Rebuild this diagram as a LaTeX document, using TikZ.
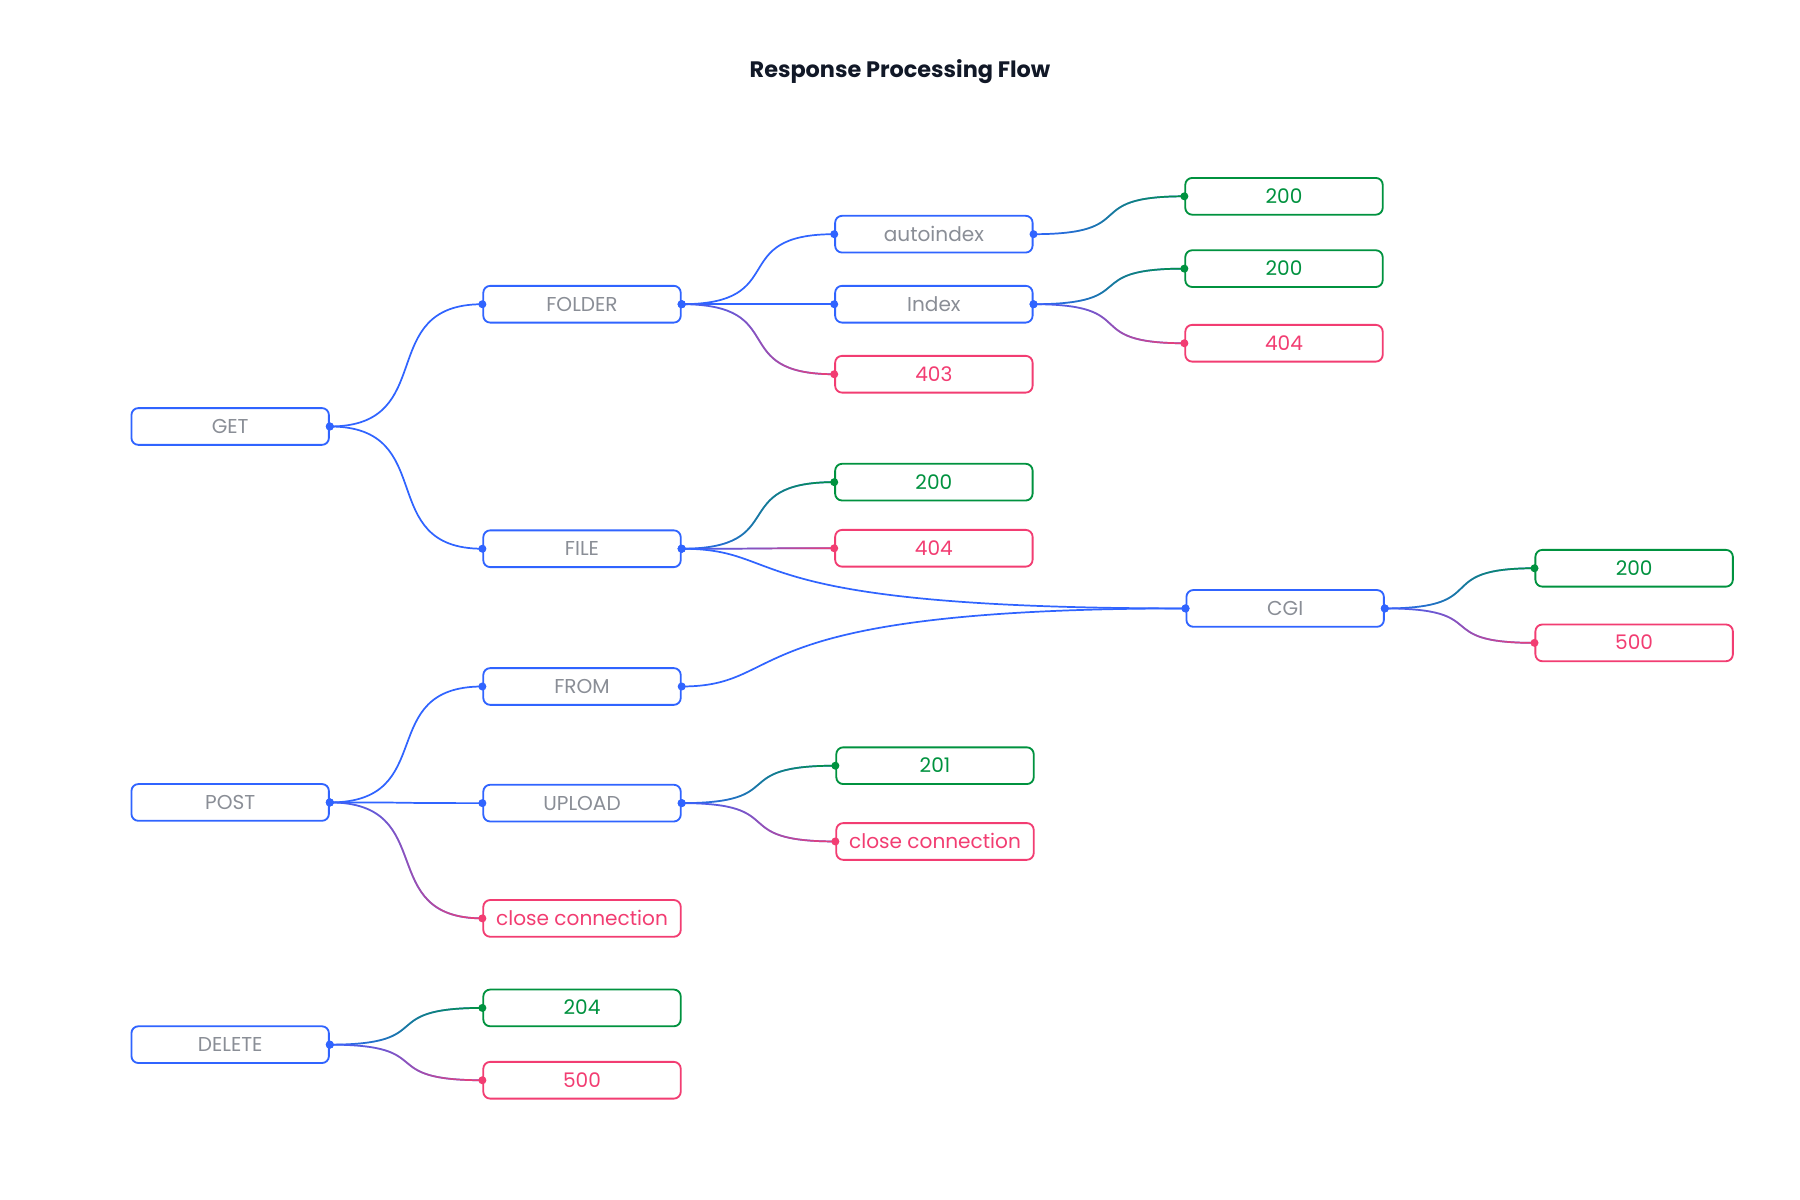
\documentclass[tikz,border=0pt]{standalone}
\usepackage{fontspec}
\setmainfont{Poppins}
\usetikzlibrary{calc,fadings}
\definecolor{cblue}{HTML}{3064FF}
\definecolor{cgrey}{HTML}{8A8E96}
\definecolor{cgreen}{HTML}{00923F}
\definecolor{cpink}{HTML}{F23D72}
\definecolor{ctitle}{HTML}{111827}
\pgfdeclarelayer{bg}
\pgfsetlayers{bg,main}
\tikzfading[name=fadeR, left color=transparent!100, right color=transparent!0]
\newcommand\linkb[2]{%
  \draw[linkline, cblue] let \p1=(#1.east), \p2=(#2.west) in (\p1) .. controls (\x1+96pt,\y1) and (\x1+38pt,\y2) .. (\p2);}
\newcommand\linkc[3]{%
  \draw[linkline, cblue] let \p1=(#1.east), \p2=(#2.west) in (\p1) .. controls (\x1+96pt,\y1) and (\x1+38pt,\y2) .. (\p2);
  \draw[linkline, #3, path fading=fadeR] let \p1=(#1.east), \p2=(#2.west) in (\p1) .. controls (\x1+96pt,\y1) and (\x1+38pt,\y2) .. (\p2);}
\newcommand\tipdots[3]{%
  \fill[cblue] (#1.east) circle (3.5pt);
  \fill[#3] (#2.west) circle (3.5pt);}
\begin{document}
\begin{tikzpicture}[x=1pt,y=-1pt,
  box/.style={draw, rounded corners=6pt, line width=1.6pt, minimum width=172pt, minimum height=32pt,
    fill=white, inner sep=0pt, text height=12.2pt, text depth=0pt, font=\fontsize{17.5}{20}\selectfont},
  bnode/.style={box, draw=cblue, text=cgrey},
  gnode/.style={box, draw=cgreen, text=cgreen},
  pnode/.style={box, draw=cpink, text=cpink},
  linkline/.style={line width=1.5pt}]
\useasboundingbox (0,0) rectangle (1568,1045);
\node[anchor=base, text=ctitle, font=\fontsize{19.5}{22}\selectfont\bfseries] (title) at (784,67.6) {Response Processing Flow};

\node[bnode] (get) at (200.5,371.5) {GET};
\node[bnode] (folder) at (507,265) {FOLDER};
\node[bnode] (file) at (507,478) {FILE};
\node[bnode] (auto) at (813.5,204) {autoindex};
\node[bnode] (index) at (813.5,265) {Index};
\node[pnode] (f403) at (813.5,326) {403};
\node[gnode] (a200) at (1118.5,171) {200};
\node[gnode] (i200) at (1118.5,234) {200};
\node[pnode] (i404) at (1118.5,299) {404};
\node[gnode] (fl200) at (813.5,420) {200};
\node[pnode] (fl404) at (813.5,477.6) {404};
\node[bnode] (cgi) at (1119.5,530) {CGI};
\node[gnode] (c200) at (1423.5,495) {200};
\node[pnode] (c500) at (1423.5,560) {500};
\node[bnode] (from) at (507,598) {FROM};
\node[bnode] (post) at (200.5,699) {POST};
\node[bnode] (upload) at (507,699.6) {UPLOAD};
\node[gnode] (u201) at (814.5,667) {201};
\node[pnode] (ucc) at (814.5,733) {close connection};
\node[pnode] (pcc) at (507,800) {close connection};
\node[bnode] (delete) at (200.5,910) {DELETE};
\node[gnode] (d204) at (507,878) {204};
\node[pnode] (d500) at (507,941) {500};

\begin{pgfonlayer}{bg}
\fill[white] (0,0) rectangle (1568,1045);
\linkb{get}{folder}
\linkb{get}{file}
\linkb{folder}{auto}
\linkb{folder}{index}
\linkc{folder}{f403}{cpink}
\linkc{auto}{a200}{cgreen}
\linkc{index}{i200}{cgreen}
\linkc{index}{i404}{cpink}
\linkc{file}{fl200}{cgreen}
\linkc{file}{fl404}{cpink}
\linkb{file}{cgi}
\linkc{cgi}{c200}{cgreen}
\linkc{cgi}{c500}{cpink}
\linkb{from}{cgi}
\linkb{post}{from}
\linkb{post}{upload}
\linkc{post}{pcc}{cpink}
\linkc{upload}{u201}{cgreen}
\linkc{upload}{ucc}{cpink}
\linkc{delete}{d204}{cgreen}
\linkc{delete}{d500}{cpink}
\end{pgfonlayer}

\tipdots{get}{folder}{cblue}
\tipdots{get}{file}{cblue}
\tipdots{folder}{auto}{cblue}
\tipdots{folder}{index}{cblue}
\tipdots{folder}{f403}{cpink}
\tipdots{auto}{a200}{cgreen}
\tipdots{index}{i200}{cgreen}
\tipdots{index}{i404}{cpink}
\tipdots{file}{fl200}{cgreen}
\tipdots{file}{fl404}{cpink}
\tipdots{file}{cgi}{cblue}
\tipdots{cgi}{c200}{cgreen}
\tipdots{cgi}{c500}{cpink}
\tipdots{from}{cgi}{cblue}
\tipdots{post}{from}{cblue}
\tipdots{post}{upload}{cblue}
\tipdots{post}{pcc}{cpink}
\tipdots{upload}{u201}{cgreen}
\tipdots{upload}{ucc}{cpink}
\tipdots{delete}{d204}{cgreen}
\tipdots{delete}{d500}{cpink}
\end{tikzpicture}
\end{document}
